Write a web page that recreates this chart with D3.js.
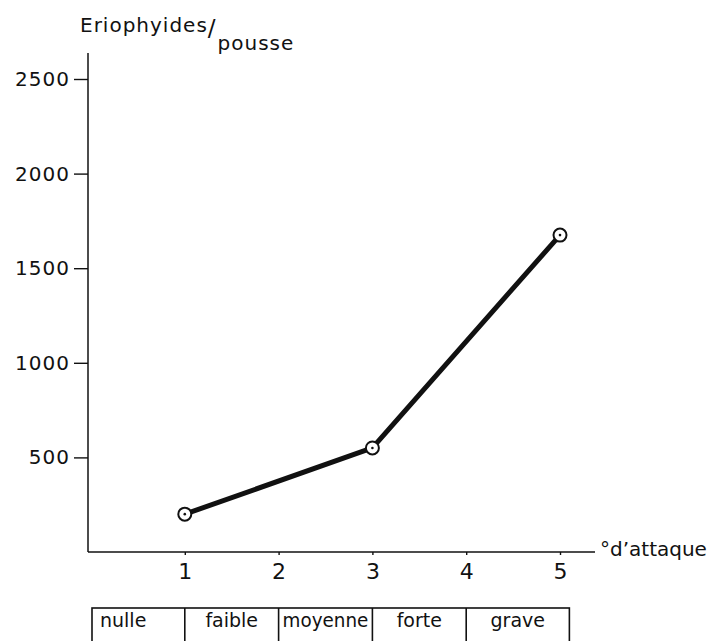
<!DOCTYPE html>
<html>
<head>
<meta charset="utf-8">
<script src="https://cdn.jsdelivr.net/npm/d3@7"></script>
<style>
    body { margin: 0; background: #fff; }
    svg text { font-family: "DejaVu Sans", sans-serif; fill: #111; }
</style>
</head>
<body>
<div id="chart"></div>
<script>
// degree of attack (x) and mites per shoot (y)
const attackDegrees = [1, 3, 5];
const mitesPerShoot = [200, 550, 1675];

const yTickValues = [500, 1000, 1500, 2000, 2500];
const xTickValues = [1, 2, 3, 4, 5];

const attackClasses = ["nulle", "faible", "moyenne", "forte", "grave"];
const classBounds = [0, 1, 2, 3, 4, 5.1];

const width = 717,
    height = 641;

let x = d3.scaleLinear().domain([0, 5]).range([91, 560]),
    y = d3.scaleLinear().domain([0, 2500]).range([552, 79]);

let svg = d3.select("#chart")
    .append("svg")
    .attr("width", width)
    .attr("height", height);

// y axis
let yAxis = svg.append("g")
    .attr("class", "y axis")
    .attr("transform", "translate(88,0)")
    .call(d3.axisLeft(y).tickValues(yTickValues).tickSize(14).tickPadding(4).tickFormat(d3.format("d")));
yAxis.select(".domain").remove();
yAxis.selectAll("line").attr("stroke", "#111").attr("stroke-width", 1.4);
yAxis.selectAll("text")
    .attr("font-size", 20)
    .attr("letter-spacing", 1)
    .attr("fill", "#111");

svg.append("line")
    .attr("x1", 88).attr("x2", 88)
    .attr("y1", 53).attr("y2", y(0))
    .attr("stroke", "#111")
    .attr("stroke-width", 1.5);

// x axis
let xAxis = svg.append("g")
    .attr("class", "x axis")
    .attr("transform", "translate(0," + y(0) + ")")
    .call(d3.axisBottom(x).tickValues(xTickValues).tickSize(3).tickPadding(8).tickFormat(d3.format("d")));
xAxis.select(".domain").remove();
xAxis.selectAll("line").attr("stroke", "#111").attr("stroke-width", 1.4);
xAxis.selectAll("text")
    .attr("font-size", 22)
    .attr("fill", "#111");

svg.append("line")
    .attr("x1", 88).attr("x2", 595)
    .attr("y1", y(0)).attr("y2", y(0))
    .attr("stroke", "#111")
    .attr("stroke-width", 1.5);

// axis labels
let yLabel = svg.append("text")
    .attr("x", 80)
    .attr("y", 32)
    .attr("font-size", 20)
    .attr("letter-spacing", 1);
yLabel.append("tspan").text("Eriophyides");
yLabel.append("tspan").attr("font-size", 23).attr("dy", 4).text("/");
yLabel.append("tspan").attr("dy", 14).attr("dx", 1).text("pousse");

svg.append("text")
    .attr("x", 600)
    .attr("y", 556)
    .attr("font-size", 20)
    .text("°d’attaque");

// data line
svg.append("path")
    .datum(attackDegrees.map((d, i) => ({x: d, y: mitesPerShoot[i]})))
    .attr("fill", "none")
    .attr("stroke", "#111")
    .attr("stroke-width", 5)
    .attr("stroke-linejoin", "round")
    .attr("d", d3.line().x(d => x(d.x)).y(d => y(d.y)));

let points = svg.selectAll(".point")
    .data(attackDegrees.map((d, i) => ({x: d, y: mitesPerShoot[i]})))
    .enter().append("g")
    .attr("class", "point")
    .attr("transform", d => "translate(" + x(d.x) + "," + y(d.y) + ")");
points.append("circle")
    .attr("r", 6.5)
    .attr("fill", "#fff")
    .attr("stroke", "#111")
    .attr("stroke-width", 2);
points.append("circle")
    .attr("r", 1.3)
    .attr("fill", "#111");

// class table under the axis
let table = svg.append("g").attr("class", "classes");
table.append("rect")
    .attr("x", x(classBounds[0]) + 1)
    .attr("y", 608)
    .attr("width", x(classBounds[classBounds.length - 1]) - x(classBounds[0]) - 1)
    .attr("height", 60)
    .attr("fill", "none")
    .attr("stroke", "#111")
    .attr("stroke-width", 1.6);

table.selectAll(".divider")
    .data(classBounds.slice(1, -1))
    .enter().append("line")
    .attr("class", "divider")
    .attr("x1", d => x(d)).attr("x2", d => x(d))
    .attr("y1", 608).attr("y2", 660)
    .attr("stroke", "#111")
    .attr("stroke-width", 1.6);

table.selectAll(".classLabel")
    .data(attackClasses)
    .enter().append("text")
    .attr("class", "classLabel")
    .attr("x", (d, i) => i === 0 ? x(classBounds[i]) + 9 : (x(classBounds[i]) + x(classBounds[i + 1])) / 2)
    .attr("y", 627)
    .attr("text-anchor", (d, i) => i === 0 ? "start" : "middle")
    .attr("font-size", 19)
    .text(d => d)
    .each(function (d, i) {
        // squeeze labels that would not fit in their cell
        let cell = x(classBounds[i + 1]) - x(classBounds[i]) - 8;
        if (this.getComputedTextLength() > cell) {
            d3.select(this).attr("textLength", cell).attr("lengthAdjust", "spacingAndGlyphs");
        }
    });
</script>
</body>
</html>
